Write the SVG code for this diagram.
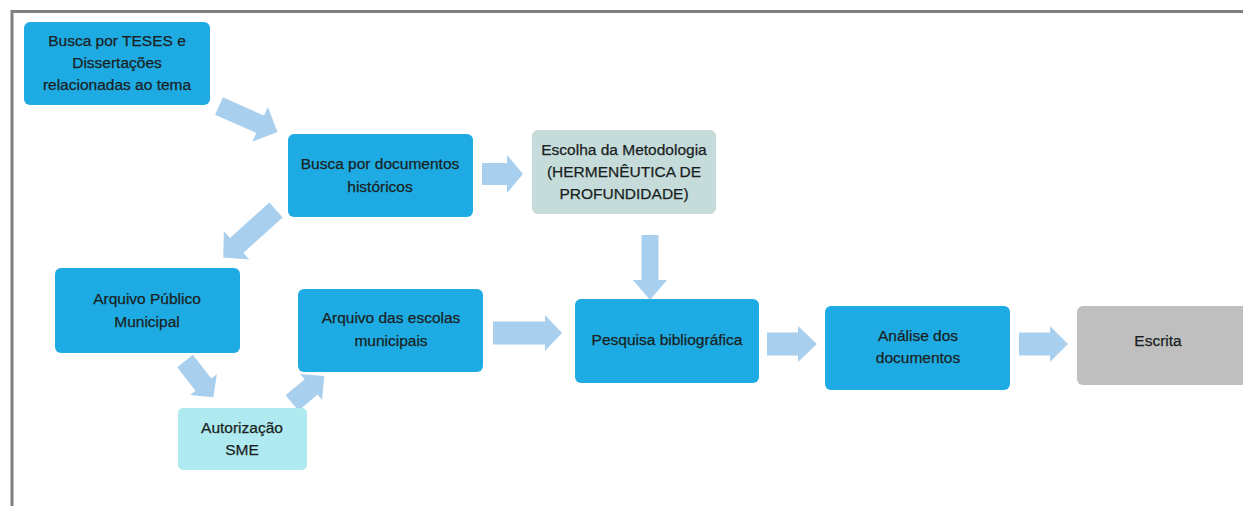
<svg xmlns="http://www.w3.org/2000/svg" width="1243" height="506" viewBox="0 0 1243 506">
<style>
.n{fill:#1eabe3}
.t{font-family:"Liberation Sans",Arial,sans-serif;font-size:15.5px;fill:#1a1f22;stroke:#1a1f22;stroke-width:0.25;text-anchor:middle}
.a{fill:#a8cfee}
</style>
<rect width="1243" height="506" fill="#fff"/>
<path d="M12,506 V11.5 H1243" fill="none" stroke="#808080" stroke-width="3"/>
<g id="connectors">
<polygon class="a" transform="translate(219,106) rotate(24)" points="0,-9.5 45,-9.5 45,-19 64,0 45,19 45,9.5 0,9.5"/>
<polygon class="a" transform="translate(482,174) rotate(0)" points="0,-11 25,-11 25,-19 41,0 25,19 25,11 0,11"/>
<polygon class="a" transform="translate(650,235) rotate(90)" points="0,-8.5 45,-8.5 45,-17 65,0 45,17 45,8.5 0,8.5"/>
<polygon class="a" transform="translate(276,210) rotate(138)" points="0,-10 53,-10 53,-19 71,0 53,19 53,10 0,10"/>
<polygon class="a" transform="translate(185,361) rotate(52)" points="0,-10 30,-10 30,-17 46,0 30,17 30,10 0,10"/>
<polygon class="a" transform="translate(292,403) rotate(-40)" points="0,-10 25,-10 25,-17 42,0 25,17 25,10 0,10"/>
<polygon class="a" transform="translate(493,333) rotate(0)" points="0,-11.5 52,-11.5 52,-18 69,0 52,18 52,11.5 0,11.5"/>
<polygon class="a" transform="translate(767,344) rotate(0)" points="0,-11.5 31,-11.5 31,-18 50,0 31,18 31,11.5 0,11.5"/>
<polygon class="a" transform="translate(1019,344) rotate(0)" points="0,-11.5 31,-11.5 31,-18 49,0 31,18 31,11.5 0,11.5"/>
</g>
<g id="n1">
<rect class="n" x="24" y="22" width="186" height="83" rx="6"/>
<text class="t" x="117" y="46">Busca por TESES e</text>
<text class="t" x="117" y="68">Dissertações</text>
<text class="t" x="117" y="90">relacionadas ao tema</text>
</g>
<g id="n2">
<rect class="n" x="288" y="134" width="185" height="83" rx="6"/>
<text class="t" x="380" y="169">Busca por documentos</text>
<text class="t" x="380" y="192">históricos</text>
</g>
<g id="n3">
<rect x="532" y="130" width="184" height="84" rx="6" fill="#c5dcdb"/>
<text class="t" x="624" y="155">Escolha da Metodologia</text>
<text class="t" x="624" y="177">(HERMENÊUTICA DE</text>
<text class="t" x="624" y="199">PROFUNDIDADE)</text>
</g>
<g id="n4">
<rect class="n" x="55" y="268" width="185" height="85" rx="6"/>
<text class="t" x="147" y="304">Arquivo Público</text>
<text class="t" x="147" y="327">Municipal</text>
</g>
<g id="n5">
<rect x="178" y="408" width="129" height="62" rx="5" fill="#aeeaef"/>
<text class="t" x="242" y="433">Autorização</text>
<text class="t" x="242" y="455">SME</text>
</g>
<g id="n6">
<rect class="n" x="298" y="289" width="185" height="83" rx="6"/>
<text class="t" x="391" y="323">Arquivo das escolas</text>
<text class="t" x="391" y="346">municipais</text>
</g>
<g id="n7">
<rect class="n" x="575" y="299" width="184" height="84" rx="6"/>
<text class="t" x="667" y="345">Pesquisa bibliográfica</text>
</g>
<g id="n8">
<rect class="n" x="825" y="306" width="185" height="84" rx="6"/>
<text class="t" x="918" y="341">Análise dos</text>
<text class="t" x="918" y="363">documentos</text>
</g>
<g id="n9">
<rect x="1077" y="306" width="180" height="79" rx="6" fill="#bfbfbf"/>
<text class="t" x="1158" y="346">Escrita</text>
</g>
</svg>
